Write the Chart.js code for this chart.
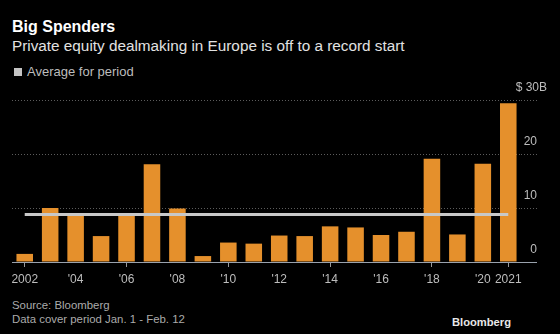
<!DOCTYPE html>
<html>
<head>
<meta charset="utf-8">
<script src="https://cdn.jsdelivr.net/npm/chart.js@4/dist/chart.umd.min.js"></script>
<style>
  html, body { margin: 0; padding: 0; background: #000; }
  body { width: 560px; height: 334px; position: relative; overflow: hidden; font-family: "Liberation Sans", Arial, sans-serif; }
  .t { position: absolute; white-space: nowrap; }
  #title { left: 12px; top: 19px; font-size: 16px; line-height: 16px; font-weight: bold; color: #fff; }
  #sub { left: 12px; top: 37.5px; font-size: 15.3px; line-height: 16px; color: #e2e2e2; }
  #leg { left: 27px; top: 65px; font-size: 13px; line-height: 13px; color: #bdbdbd; }
  #swatch { position: absolute; left: 14px; top: 68px; width: 8px; height: 8px; background: #c4c4c4; }
  #src { left: 12px; top: 299px; font-size: 11.4px; line-height: 12px; color: #ababab; }
  #note { left: 12px; top: 313px; font-size: 11.4px; line-height: 12px; color: #ababab; }
  #brand { right: 49px; top: 316px; font-size: 11.2px; line-height: 12px; font-weight: bold; color: #e8e8e8; }
  #wrap { position: absolute; left: 0; top: 80px; width: 560px; height: 214px; }
</style>
</head>
<body>
<div class="t" id="title">Big Spenders</div>
<div class="t" id="sub">Private equity dealmaking in Europe is off to a record start</div>
<div id="swatch"></div>
<div class="t" id="leg">Average for period</div>
<div id="wrap"><canvas id="myChart"></canvas></div>
<div class="t" id="src">Source: Bloomberg</div>
<div class="t" id="note">Data cover period Jan. 1 - Feb. 12</div>
<div class="t" id="brand">Bloomberg</div>

<script>
// deal value, $B, Jan 1 - Feb 12 of each year
const years = [2002, 2003, 2004, 2005, 2006, 2007, 2008, 2009, 2010, 2011,
               2012, 2013, 2014, 2015, 2016, 2017, 2018, 2019, 2020, 2021];
const dealValues = [1.5, 10.0, 8.6, 4.8, 8.6, 18.1, 9.9, 1.1, 3.6, 3.4,
                    4.9, 4.8, 6.6, 6.4, 5.0, 5.6, 19.1, 5.1, 18.2, 29.4];
const periodAverage = 8.8;
const xTickLabels = ['2002', null, "'04", null, "'06", null, "'08", null, "'10", null,
                     "'12", null, "'14", null, "'16", null, "'18", null, "'20", '2021'];
const yTicks = [0, 10, 20, 30];

const ctx = document.getElementById('myChart').getContext('2d');
const dotted = '#5c5c5c';
const baseline = '#9aa2ad';

const myChart = new Chart(ctx, {
    data: {
        labels: years,
        datasets: [{
            type: 'line',
            label: 'Average for period',
            data: years.map(() => periodAverage),
            borderColor: '#c8c8c8',
            borderWidth: 3,
            pointRadius: 0,
            order: 0
        }, {
            type: 'bar',
            label: 'Deal value',
            data: dealValues,
            backgroundColor: '#e5902c',
            barPercentage: 0.65,
            categoryPercentage: 1,
            order: 1
        }]
    },
    options: {
        responsive: true,
        maintainAspectRatio: false,
        animation: false,
        layout: { padding: { top: 20, left: 12, right: 13, bottom: 8 } },
        plugins: {
            legend: { display: false },
            tooltip: { enabled: false }
        },
        scales: {
            x: {
                afterFit: (s) => { s.height = 24; },
                grid: {
                    offset: false,
                    drawOnChartArea: false,
                    drawTicks: true,
                    tickLength: 5,
                    tickColor: (c) => xTickLabels[c.index] ? '#9a9a9a' : 'rgba(0,0,0,0)'
                },
                border: { display: false },
                ticks: {
                    autoSkip: false,
                    maxRotation: 0,
                    padding: 5,
                    color: '#bdbdbd',
                    font: { family: 'Liberation Sans', size: 12 },
                    callback: (v, i) => xTickLabels[i]
                }
            },
            y: {
                position: 'right',
                min: 0,
                max: 30,
                afterBuildTicks: (s) => { s.ticks = yTicks.map(v => ({ value: v })); },
                afterFit: (s) => { s.width = 26; s.paddingTop = 0; s.paddingBottom = 0; },
                grid: {
                    color: (c) => c.tick.value === 0 ? baseline : dotted,
                    tickLength: 16,
                    tickBorderDash: (c) => c.tick.value === 0 ? [] : [1, 2]
                },
                border: {
                    display: false,
                    dash: (c) => c.tick.value === 0 ? [] : [1, 2]
                },
                ticks: {
                    mirror: true,
                    crossAlign: 'near',
                    padding: 26,
                    labelOffset: -12,
                    color: '#bdbdbd',
                    font: { family: 'Liberation Sans', size: 12 },
                    callback: (v) => v === 30 ? '$ 30B' : v + '   '
                }
            }
        }
    }
});
</script>
</body>
</html>
